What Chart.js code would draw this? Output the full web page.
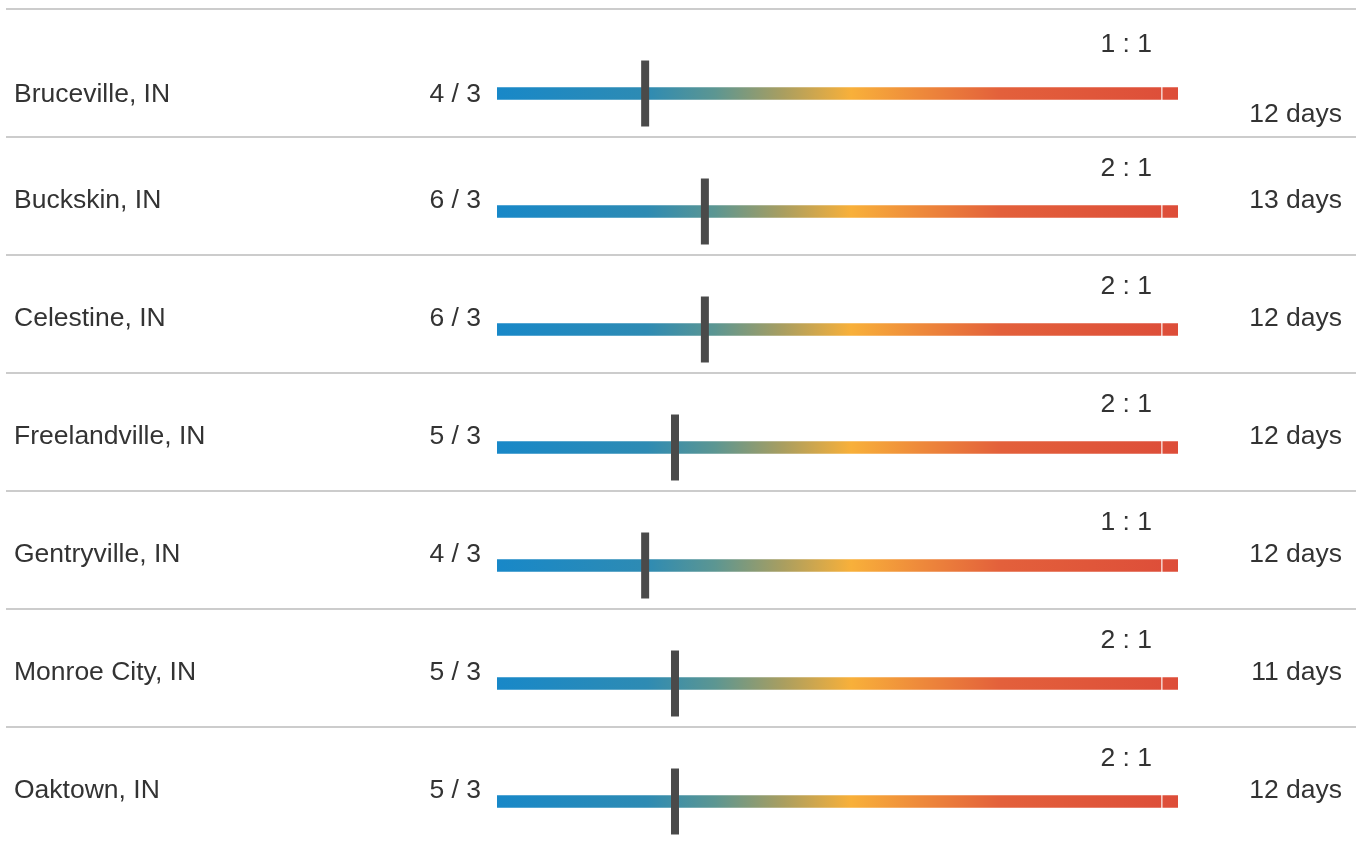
<!DOCTYPE html>
<html>
<head>
<meta charset="utf-8">
<script src="https://cdn.jsdelivr.net/npm/chart.js@4/dist/chart.umd.min.js"></script>
<style>
  html, body { margin: 0; padding: 0; background: #fff; overflow: hidden; }
  #scoreChart { position: absolute; left: 0; top: 0; }
</style>
</head>
<body>
<canvas id="scoreChart" width="1356" height="870"></canvas>
<script>
const cities = ["Bruceville, IN", "Buckskin, IN", "Celestine, IN", "Freelandville, IN",
                "Gentryville, IN", "Monroe City, IN", "Oaktown, IN"];
const numerators = [4, 6, 6, 5, 4, 5, 5];
const denominators = [3, 3, 3, 3, 3, 3, 3];
const ratios = ["1 : 1", "2 : 1", "2 : 1", "2 : 1", "1 : 1", "2 : 1", "2 : 1"];
const days = [12, 13, 12, 12, 12, 11, 12];

// range of the coloured track, with the small break near the right end
const trackStart = -0.32;
const trackBreak = 7.09;
const trackResume = 7.11;
const trackEnd = 7.28;

const markers = numerators.map((n, i) => n / denominators[i]);

const font = "26.5px 'Liberation Sans', Arial, sans-serif";
const textColor = "#333333";

function trackGradient(context) {
    const chart = context.chart;
    const area = chart.chartArea;
    if (!area) return "#1a88c8";
    const g = chart.ctx.createLinearGradient(area.left, 0, area.right, 0);
    g.addColorStop(0, "#1888c8");
    g.addColorStop(0.22, "#2e8bb3");
    g.addColorStop(0.32, "#5c9692");
    g.addColorStop(0.42, "#a99e60");
    g.addColorStop(0.52, "#f8b03a");
    g.addColorStop(0.62, "#ee8a3b");
    g.addColorStop(0.74, "#e3603b");
    g.addColorStop(1, "#dd4d39");
    return g;
}

const rowText = {
    id: "rowText",
    beforeDatasetsDraw(chart) {
        const ctx = chart.ctx;
        const yScale = chart.scales.y;
        ctx.save();
        ctx.strokeStyle = "#cccccc";
        ctx.lineWidth = 2;
        cities.forEach((c, i) => {
            const y = yScale.getPixelForValue(i);
            const lineY = i === 0 ? y - 84.5 : y - 74.5;
            ctx.beginPath();
            ctx.moveTo(6, lineY);
            ctx.lineTo(chart.width, lineY);
            ctx.stroke();
        });
        ctx.restore();
    },
    afterDraw(chart) {
        const ctx = chart.ctx;
        const yScale = chart.scales.y;
        ctx.save();
        ctx.font = font;
        ctx.fillStyle = textColor;
        ctx.textBaseline = "alphabetic";
        cities.forEach((c, i) => {
            const y = yScale.getPixelForValue(i);
            const first = i === 0;
            const labelY = first ? y + 8 : y - 4;
            const ratioY = first ? y - 42 : y - 35.5;
            const daysY = first ? y + 28 : y - 4;

            ctx.textAlign = "left";
            ctx.fillText(c, 14, labelY);

            ctx.textAlign = "right";
            ctx.fillText(numerators[i] + " / " + denominators[i], 481, labelY);
            ctx.fillText(ratios[i], 1152, ratioY);
            ctx.fillText(days[i] + " days", 1342, daysY);
        });
        ctx.restore();
    }
};

new Chart(document.getElementById("scoreChart"), {
    type: "bar",
    data: {
        labels: cities,
        datasets: [
            {
                type: "line",
                label: "Score",
                data: markers.map((v, i) => ({ x: v, y: cities[i] })),
                showLine: false,
                pointStyle: "line",
                rotation: 90,
                pointRadius: 33,
                pointHoverRadius: 33,
                pointBorderWidth: 8,
                pointBorderColor: "#4a4a4a",
                pointBackgroundColor: "#4a4a4a",
                order: 0
            },
            {
                label: "Track",
                data: cities.map(() => [trackStart, trackBreak]),
                backgroundColor: trackGradient,
                barThickness: 12,
                grouped: false,
                borderWidth: 0,
                order: 1
            },
            {
                label: "Track end",
                data: cities.map(() => [trackResume, trackEnd]),
                backgroundColor: trackGradient,
                barThickness: 12,
                grouped: false,
                borderWidth: 0,
                order: 1
            }
        ]
    },
    options: {
        indexAxis: "y",
        responsive: false,
        animation: false,
        layout: {
            autoPadding: false,
            padding: { left: 497, right: 178, top: 34.5, bottom: 9.5 }
        },
        plugins: { legend: { display: false }, tooltip: { enabled: false } },
        scales: {
            x: { type: "linear", min: trackStart, max: trackEnd, display: false },
            y: { type: "category", offset: true, display: false }
        }
    },
    plugins: [rowText]
});
</script>
</body>
</html>
